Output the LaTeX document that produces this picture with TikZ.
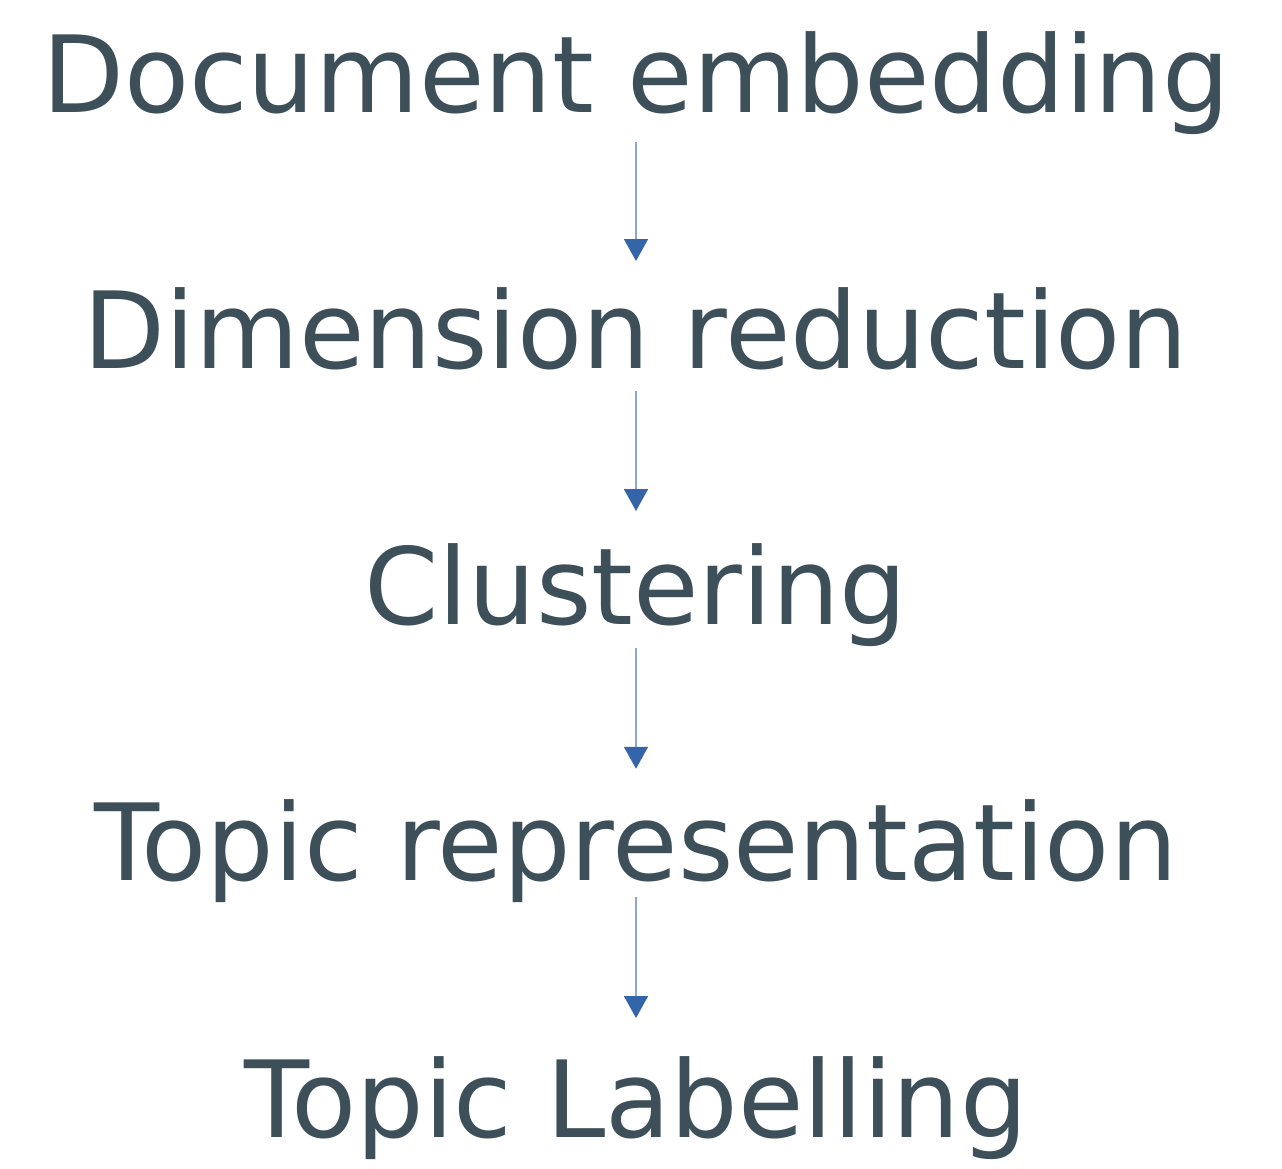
\documentclass[tikz,border=0pt]{standalone}
\usepackage{fontspec}
\setmainfont{DejaVu Sans}
\usetikzlibrary{arrows.meta}
\definecolor{txt}{HTML}{3D4F59}
\definecolor{lineblue}{HTML}{8AAAD4}
\definecolor{headblue}{HTML}{3465A8}
\begin{document}
\begin{tikzpicture}[x=1pt,y=-1pt,
  stage/.style={anchor=base,inner sep=0pt,outer sep=0pt,text height=112pt,text depth=23pt,
    text=txt,font=\fontsize{106.5}{128}\selectfont},
  flow/.style={draw=lineblue,line width=1.6pt,-{Triangle[length=22pt,width=24pt,color=headblue]}}]
\useasboundingbox (0,0) rectangle (1282,1168);
\node[stage] (a) at (636,112) {Document embedding};
\node[stage] (b) at (636,368.25) {Dimension reduction};
\node[stage] (c) at (636,624.5) {Clustering};
\node[stage] (d) at (636,880.75) {Topic representation};
\node[stage] (e) at (636,1137) {Topic Labelling};
\draw[flow] ([yshift=-7pt]a.south) -- ([yshift=-4.75pt]b.north);
\draw[flow] (b.south) -- ([yshift=1.5pt]c.north);
\draw[flow] (c.south) -- (d.north);
\draw[flow] ([yshift=6.75pt]d.south) -- ([yshift=7pt]e.north);
\end{tikzpicture}
\end{document}
